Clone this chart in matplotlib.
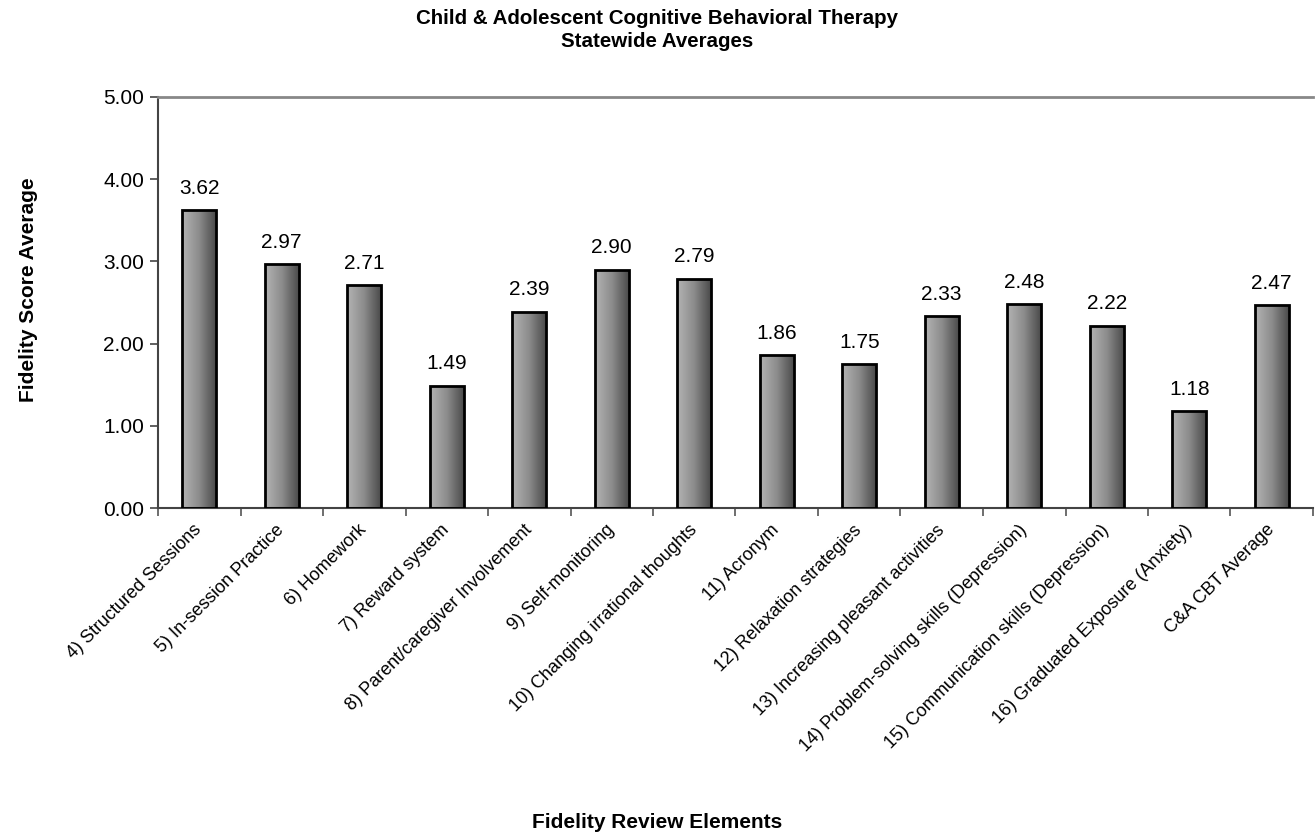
import numpy as np
import matplotlib.pyplot as plt
from matplotlib.colors import LinearSegmentedColormap

plt.rcParams['font.family'] = ['Liberation Sans', 'DejaVu Sans']

elements = [
    "4) Structured Sessions",
    "5) In-session Practice",
    "6) Homework",
    "7) Reward system",
    "8) Parent/caregiver Involvement",
    "9) Self-monitoring",
    "10) Changing irrational thoughts",
    "11) Acronym",
    "12) Relaxation strategies",
    "13) Increasing pleasant activities",
    "14) Problem-solving skills (Depression)",
    "15) Communication skills (Depression)",
    "16) Graduated Exposure (Anxiety)",
    "C&A CBT Average",
]
scores = [3.62, 2.97, 2.71, 1.49, 2.39, 2.90, 2.79, 1.86, 1.75, 2.33, 2.48, 2.22, 1.18, 2.47]

fig = plt.figure(figsize=(13.15, 8.38), dpi=100)
ax = fig.add_axes([158 / 1315, 1 - 508 / 838, (1313 - 158) / 1315, (508 - 97) / 838])

x = np.arange(len(elements))
bars = ax.bar(x, scores, width=0.41, facecolor='none', edgecolor='black', linewidth=2, zorder=3)

# gradient fill, light on the left to dark on the right
grad_cmap = LinearSegmentedColormap.from_list('bar', ['#b4b4b4', '#8c8c8c', '#4a4a4a'])
grad = np.linspace(0, 1, 256).reshape(1, -1)
for b in bars:
    x0, w, h = b.get_x(), b.get_width(), b.get_height()
    im = ax.imshow(grad, cmap=grad_cmap, extent=[x0, x0 + w, 0, h], aspect='auto', zorder=2)
    im.set_clip_path(b)

for xi, s in zip(x, scores):
    ax.text(xi, s + 0.15, f"{s:.2f}", ha='center', va='bottom', fontsize=15)

ax.set_xlim(-0.5, len(elements) - 0.5)
ax.set_ylim(0, 5)
ax.set_yticks(np.arange(0, 5.01, 1))
ax.set_yticklabels([f"{v:.2f}" for v in np.arange(0, 5.01, 1)], fontsize=15)
ax.set_xticks(x)
ax.set_xticklabels(elements, rotation=45, ha='right', va='center', rotation_mode='anchor', fontsize=13)
ax.tick_params(axis='x', length=0, pad=14)
ax.set_xticks(np.arange(-0.5, len(elements)), minor=True)
ax.tick_params(axis='x', which='minor', length=6, width=1.2, color='#555555')
ax.tick_params(axis='y', length=6, width=1.2, color='#444444', pad=4)

ax.spines['right'].set_visible(False)
ax.spines['top'].set_color('#888888')
ax.spines['top'].set_linewidth(2)
ax.spines['left'].set_color('#444444')
ax.spines['left'].set_linewidth(1.5)
ax.spines['bottom'].set_color('#444444')
ax.spines['bottom'].set_linewidth(1.5)

fig.text(29 / 1315, 1 - 290 / 838, 'Fidelity Score Average', rotation=90, ha='center', va='center',
         fontsize=15, fontweight='bold')
fig.text(0.5, 1 - 822 / 838, 'Fidelity Review Elements', ha='center', va='center',
         fontsize=15, fontweight='bold')
fig.text(0.5, 1 - 30 / 838, 'Child & Adolescent Cognitive Behavioral Therapy\nStatewide Averages',
         ha='center', va='center', fontsize=14.8, fontweight='bold', linespacing=1.3)

fig.savefig('out.png', dpi=100)
